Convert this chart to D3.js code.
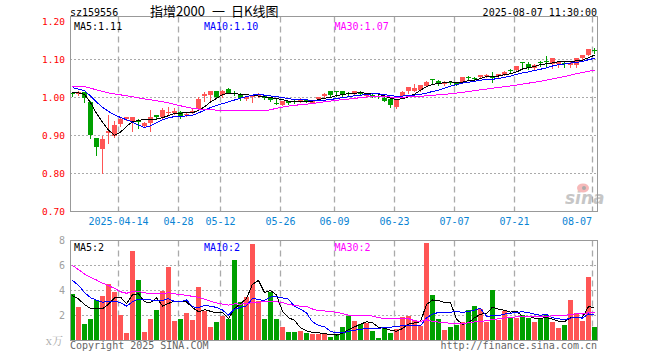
<!DOCTYPE html>
<html><head><meta charset="utf-8">
<script src="https://cdn.jsdelivr.net/npm/d3@7"></script>
<style>body{margin:0;background:#fff}svg{display:block}text{white-space:pre}</style>
</head><body><svg id="c" width="660" height="360"></svg>
<script>
const dates = ["04-01","04-02","04-03","04-07","04-08","04-09","04-10","04-11","04-14","04-15","04-16","04-17","04-18","04-21","04-22","04-23","04-24","04-25","04-28","04-29","04-30",
"05-06","05-07","05-08","05-09","05-12","05-13","05-14","05-15","05-16","05-19","05-20","05-21","05-22","05-23","05-26","05-27","05-28","05-29","05-30",
"06-03","06-04","06-05","06-06","06-09","06-10","06-11","06-12","06-13","06-16","06-17","06-18","06-19","06-20","06-23","06-24","06-25","06-26","06-27","06-30",
"07-01","07-02","07-03","07-04","07-07","07-08","07-09","07-10","07-11","07-14","07-15","07-16","07-17","07-18","07-21","07-22","07-23","07-24","07-25","07-28","07-29","07-30","07-31",
"08-01","08-04","08-05","08-06","08-07"];
const open = [1.010,1.009,1.013,0.988,0.893,0.865,0.905,0.898,0.929,0.943,
0.936,0.937,0.925,0.933,0.953,0.947,0.960,0.958,0.962,0.954,
0.960,0.969,1.002,1.006,1.015,1.005,1.022,1.012,1.009,0.996,
1.000,1.004,1.004,1.000,0.986,0.980,0.990,0.989,0.988,0.992,
0.985,0.994,1.003,1.016,1.016,1.016,1.010,1.009,1.012,1.004,
1.005,1.003,0.999,0.994,0.975,1.003,1.017,1.017,1.020,1.030,
1.047,1.043,1.034,1.039,1.038,1.039,1.053,1.051,1.052,1.057,
1.053,1.055,1.058,1.071,1.072,1.092,1.087,1.076,1.093,1.094,
1.087,1.087,1.090,1.085,1.085,1.102,1.111,1.123];
const high = [1.013,1.015,1.014,0.990,0.894,0.898,0.953,0.938,0.947,0.949,
0.948,0.943,0.935,0.967,0.954,0.971,0.975,0.971,0.963,0.958,
0.968,1.000,1.013,1.016,1.016,1.020,1.024,1.016,1.012,1.002,
1.004,1.010,1.005,1.001,0.997,0.990,0.991,0.992,0.997,0.994,
0.992,1.001,1.010,1.017,1.017,1.017,1.013,1.017,1.015,1.011,
1.008,1.005,1.000,0.995,0.996,1.016,1.028,1.035,1.033,1.042,
1.048,1.044,1.042,1.042,1.039,1.053,1.056,1.052,1.059,1.061,
1.066,1.062,1.068,1.075,1.083,1.093,1.092,1.086,1.094,1.107,
1.103,1.095,1.095,1.092,1.103,1.112,1.127,1.128];
const low = [1.004,1.005,0.988,0.894,0.849,0.800,0.881,0.895,0.925,0.941,
0.910,0.919,0.922,0.912,0.944,0.945,0.952,0.955,0.946,0.950,
0.958,0.967,0.990,0.993,1.000,1.000,1.010,1.006,0.992,0.992,
0.988,1.000,0.994,0.990,0.983,0.979,0.982,0.984,0.987,0.987,
0.984,0.993,1.000,1.004,1.003,1.003,1.006,1.008,1.006,1.000,
1.001,0.998,0.989,0.973,0.971,1.001,1.012,1.015,1.017,1.029,
1.034,1.033,1.033,1.034,1.032,1.038,1.046,1.046,1.051,1.052,
1.039,1.053,1.057,1.066,1.070,1.080,1.075,1.074,1.082,1.080,
1.076,1.080,1.080,1.079,1.078,1.101,1.110,1.117];
const close = [1.008,1.013,0.997,0.901,0.870,0.890,0.912,0.927,0.942,0.947,
0.947,0.935,0.933,0.948,0.948,0.967,0.962,0.963,0.950,0.956,
0.964,0.995,1.008,1.015,1.001,1.016,1.011,1.010,0.998,1.000,
1.002,1.005,0.998,0.992,0.984,0.989,0.984,0.988,0.996,0.991,
0.991,1.000,1.009,1.005,1.015,1.008,1.009,1.016,1.010,1.010,
1.004,1.001,0.991,0.979,0.995,1.014,1.027,1.025,1.031,1.041,
1.046,1.035,1.041,1.038,1.033,1.052,1.052,1.050,1.058,1.058,
1.052,1.060,1.067,1.070,1.082,1.091,1.077,1.085,1.092,1.093,
1.102,1.093,1.089,1.091,1.102,1.111,1.126,1.122];
const volume = [3.73,2.72,1.36,1.73,3.28,3.60,4.53,3.92,2.05,0.61,
7.20,4.88,0.72,1.73,2.48,4.00,5.92,1.60,1.73,2.21,
1.65,4.32,2.40,1.12,1.52,1.95,1.71,6.48,3.09,3.52,
7.73,3.20,1.71,3.87,1.71,1.12,0.67,0.72,0.80,0.57,
0.49,0.49,0.49,0.27,0.45,1.12,2.00,1.60,1.33,1.41,
0.80,0.21,1.12,0.64,0.93,1.87,2.00,1.60,1.15,7.79,
3.68,1.73,0.88,1.07,1.25,1.47,2.48,2.80,2.53,1.47,
4.08,1.68,2.35,1.79,1.79,2.05,1.79,1.52,1.73,2.05,
1.47,0.99,1.28,3.28,2.21,1.60,5.12,1.07];
// sessions before the visible window (needed for the moving averages)
const priorCloses = [1.000,1.005,1.012,1.008,1.015,1.020,1.018,1.010,1.016,1.022,1.025,1.020,1.018,1.021,
1.045,1.058,1.066,1.070,1.062,1.059,1.050,1.042,1.035,1.030,1.028,1.022,1.016,1.010,1.009];
const priorVolumes = [12.5,11.8,10.2,9.5,11.0,10.4,10.6,10.2,4.2,3.5,3.9,4.4,3.1,3.6,4.0,3.3,3.8,4.1,3.7,4.2,
6.5,7.2,5.8,5.4,5.1,4.1,3.6,3.3,3.27];
const priceTicks = [1.20,1.10,1.00,0.90,0.80,0.70];
const priceGrid = [1.10,1.00,0.90,0.80];
const volTicks = [8,6,4,2];
const volGrid = [6,4,2];
const dateTicks = ["04-14","04-28","05-12","05-26","06-09","06-23","07-07","07-21","08-07"];
const dateTickLabels = ["2025-04-14","04-28","05-12","05-26","06-09","06-23","07-07","07-21","08-07"];
const maPeriods = [5,10,30];
const maColors = ["#000000","#0000ff","#ff00ff"];
const titleParts = ["指增2000", "一", "日K线图"];
const codeText = "sz159556";
const timeText = "2025-08-07 11:30:00";

const svg = d3.select("#c");
const L = 70, R = 598;
const MONO = "'DejaVu Sans Mono', monospace";
const RED = "#ff5555", GREEN = "#00a000", GRID = "#aaaaaa", FRAME = "#999999";

const x = d3.scaleBand().domain(dates).range([L, R]).padding(0);
const bw = x.bandwidth() - 1;
const cx = d => x(d) + bw / 2;
const yP = d3.scaleLinear().domain([0.70, 1.20]).range([211.5, 21]);
const yV = d3.scaleLinear().domain([0, 8]).range([340.5, 240.5]);

function movingAvg(prior, vals, n) {
  const all = prior.concat(vals);
  return vals.map((v, i) => {
    const end = prior.length + i;
    if (end - n + 1 < 0) return null;
    return d3.mean(all.slice(end - n + 1, end + 1));
  });
}
const priceMA = maPeriods.map(n => movingAvg(priorCloses, close, n));
const volMA = maPeriods.map(n => movingAvg(priorVolumes, volume, n));

const panels = [{top: 16.5, bottom: 211.5}, {top: 240.5, bottom: 340.5}];
const crisp = v => Math.round(v - 0.5) + 0.5;

// vertical dashed grid
panels.forEach(p => {
  svg.append("g").selectAll("line").data(dateTicks).join("line")
    .attr("x1", d => x(d) + 0.5).attr("x2", d => x(d) + 0.5)
    .attr("y1", p.top).attr("y2", p.bottom)
    .attr("stroke", GRID).attr("stroke-width", 1.3).attr("stroke-dasharray", "6,4");
});
// horizontal dotted grids
svg.append("g").selectAll("line").data(priceGrid).join("line")
  .attr("x1", L).attr("x2", R).attr("y1", d => crisp(yP(d))).attr("y2", d => crisp(yP(d)))
  .attr("stroke", GRID).attr("stroke-dasharray", "2,2");
svg.append("g").selectAll("line").data(volGrid).join("line")
  .attr("x1", L).attr("x2", R).attr("y1", d => crisp(yV(d))).attr("y2", d => crisp(yV(d)))
  .attr("stroke", GRID).attr("stroke-dasharray", "2,2");

// sina watermark
const wm = svg.append("g").attr("opacity", 0.55);
wm.append("text").attr("x", 565).attr("y", 204).text("sina")
  .attr("font-family", "'DejaVu Sans', sans-serif").attr("font-size", 17).attr("font-weight", "bold")
  .attr("font-style", "italic").attr("fill", "#999");
wm.append("ellipse").attr("cx", 583).attr("cy", 188).attr("rx", 6).attr("ry", 4.5).attr("fill", "#f08080");
wm.append("circle").attr("cx", 584).attr("cy", 188).attr("r", 2).attr("fill", "#666");

// candles
const isUp = i => close[i] >= open[i];
const cg = svg.append("g");
cg.selectAll("line").data(dates).join("line")
  .attr("x1", d => Math.floor(cx(d)) + 0.5).attr("x2", d => Math.floor(cx(d)) + 0.5)
  .attr("y1", (d, i) => Math.round(yP(high[i]))).attr("y2", (d, i) => Math.round(yP(low[i])) + 1)
  .attr("stroke", (d, i) => isUp(i) ? RED : GREEN);
cg.selectAll("rect").data(dates).join("rect")
  .attr("x", d => x(d)).attr("width", bw)
  .attr("y", (d, i) => Math.round(yP(Math.max(open[i], close[i]))))
  .attr("height", (d, i) => Math.max(1, Math.round(yP(Math.min(open[i], close[i]))) - Math.round(yP(Math.max(open[i], close[i])))))
  .attr("fill", (d, i) => isUp(i) ? RED : GREEN);

// volume bars
svg.append("g").selectAll("rect").data(dates).join("rect")
  .attr("x", d => x(d)).attr("width", bw)
  .attr("y", (d, i) => Math.round(yV(volume[i])))
  .attr("height", (d, i) => 340 - Math.round(yV(volume[i])))
  .attr("fill", (d, i) => isUp(i) ? RED : GREEN);

// moving average lines
function drawMA(series, yScale) {
  series.forEach((s, k) => {
    const line = d3.line().defined(v => v != null)
      .x((v, i) => cx(dates[i])).y(v => yScale(v));
    svg.append("path").datum(s).attr("d", line).attr("fill", "none")
      .attr("stroke", maColors[k]).attr("stroke-width", 1).attr("shape-rendering", "crispEdges");
  });
}
drawMA(priceMA, yP);
drawMA(volMA, yV);

// frames
panels.forEach(p => {
  svg.append("rect").attr("x", 70.5).attr("y", p.top).attr("width", 527).attr("height", p.bottom - p.top)
    .attr("fill", "none").attr("stroke", FRAME);
});

// price axis labels
svg.append("g").selectAll("text").data(priceTicks).join("text")
  .attr("x", 65).attr("y", d => yP(d) + 3.5).attr("text-anchor", "end")
  .attr("font-family", MONO).attr("font-size", 9.5).attr("fill", "#ff0000")
  .text(d => d.toFixed(2));
// volume axis labels
svg.append("g").selectAll("text").data(volTicks).join("text")
  .attr("x", 65).attr("y", d => yV(d) + 3.5).attr("text-anchor", "end")
  .attr("font-family", MONO).attr("font-size", 10).attr("fill", "#a0a0a0")
  .text(d => d);
svg.append("text").attr("x", 63).attr("y", 345).attr("text-anchor", "end")
  .attr("font-family", "'Noto Serif CJK SC','Noto Sans CJK SC', serif").attr("font-size", 11).attr("fill", "#aaaaaa").text("x万");

// date labels
svg.append("g").selectAll("text").data(dateTicks).join("text")
  .attr("x", (d, i) => i === dateTicks.length - 1 ? x(d) : x(d) + 0.5)
  .attr("y", 225).attr("text-anchor", (d, i) => i === dateTicks.length - 1 ? "end" : "middle")
  .attr("font-family", MONO).attr("font-size", 10).attr("fill", "#0a84d4")
  .text((d, i) => dateTickLabels[i]);

// header
svg.append("text").attr("x", 70).attr("y", 15.5).attr("font-family", MONO).attr("font-size", 10)
  .attr("fill", "#000").text(codeText);
const titleX = [150, 212, 231];
titleParts.forEach((t, i) => {
  svg.append("text").attr("x", titleX[i]).attr("y", 15.5).attr("font-family", "'Noto Sans CJK SC', sans-serif")
    .attr("font-size", 13).attr("fill", "#000").text(t);
});
svg.append("text").attr("x", 597).attr("y", 15.5).attr("text-anchor", "end").attr("font-family", MONO)
  .attr("font-size", 10).attr("fill", "#000").text(timeText);

// MA legends
const legX = [74, 204, 334.5];
const last = dates.length - 1;
maPeriods.forEach((n, k) => {
  svg.append("text").attr("x", legX[k]).attr("y", 30).attr("font-family", MONO).attr("font-size", 10)
    .attr("fill", maColors[k]).text("MA" + n + ":" + priceMA[k][last].toFixed(2));
  svg.append("text").attr("x", legX[k]).attr("y", 250.5).attr("font-family", MONO).attr("font-size", 10)
    .attr("fill", maColors[k]).text("MA" + n + ":" + Math.floor(volMA[k][last]));
});

// footer
svg.append("text").attr("x", 70).attr("y", 348.5).attr("font-family", MONO).attr("font-size", 10)
  .attr("fill", "#666").text("Copyright 2025 SINA.COM");
svg.append("text").attr("x", 597).attr("y", 348.5).attr("text-anchor", "end").attr("font-family", MONO)
  .attr("font-size", 10).attr("fill", "#666").text("http://finance.sina.com.cn");
</script></body></html>
